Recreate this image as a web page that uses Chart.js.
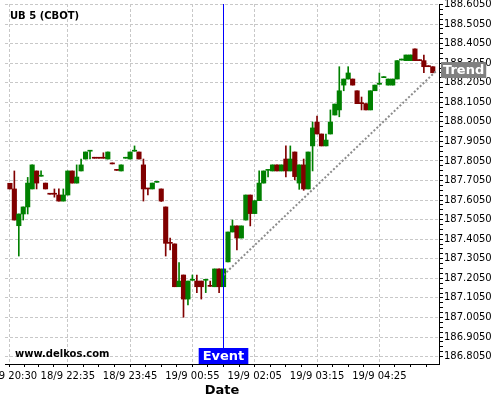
<!DOCTYPE html>
<html>
<head>
<meta charset="utf-8">
<title>UB 5 (CBOT)</title>
<script src="https://cdn.jsdelivr.net/npm/chart.js@4.4.1/dist/chart.umd.min.js"></script>
<style>
  body { margin: 0; background: #fff; }
  #wrap { width: 500px; height: 400px; }
</style>
</head>
<body>
<div id="wrap"><canvas id="chart" width="500" height="400"></canvas></div>
<script>
// 5 minute candles, gaps in the session are skipped
var times = [
  '18/9 20:30', '18/9 20:35', '18/9 20:40', '18/9 20:45', '18/9 20:50', '18/9 20:55', '18/9 21:00',
  '18/9 22:05', '18/9 22:10', '18/9 22:15', '18/9 22:20', '18/9 22:25', '18/9 22:30',
  '18/9 22:35', '18/9 22:40', '18/9 22:45', '18/9 22:50', '18/9 22:55', '18/9 23:00', '18/9 23:05',
  '18/9 23:10', '18/9 23:15', '18/9 23:20', '18/9 23:25', '18/9 23:30', '18/9 23:35', '18/9 23:40',
  '18/9 23:45', '18/9 23:50', '18/9 23:55', '19/9 00:00', '19/9 00:05', '19/9 00:10', '19/9 00:15',
  '19/9 00:20', '19/9 00:25', '19/9 00:30', '19/9 00:35', '19/9 00:40', '19/9 00:45', '19/9 00:50',
  '19/9 00:55', '19/9 01:00', '19/9 01:05', '19/9 01:10', '19/9 01:15', '19/9 01:20', '19/9 01:25',
  '19/9 01:30', '19/9 01:35', '19/9 01:40', '19/9 01:45', '19/9 01:50', '19/9 01:55', '19/9 02:00',
  '19/9 02:05', '19/9 02:10', '19/9 02:15', '19/9 02:20', '19/9 02:25', '19/9 02:30', '19/9 02:35',
  '19/9 02:40', '19/9 02:45', '19/9 02:50', '19/9 02:55', '19/9 03:00', '19/9 03:05', '19/9 03:10',
  '19/9 03:15', '19/9 03:20', '19/9 03:25', '19/9 03:30', '19/9 03:35', '19/9 03:40', '19/9 03:45',
  '19/9 03:50', '19/9 03:55', '19/9 04:00', '19/9 04:05', '19/9 04:10', '19/9 04:15', '19/9 04:20',
  '19/9 04:25', '19/9 04:30', '19/9 04:35', '19/9 04:40', '19/9 04:45', '19/9 04:50', '19/9 04:55',
  '19/9 05:00', '19/9 05:05', '19/9 05:10', '19/9 05:15', '19/9 05:20', '19/9 05:25'
];

var opens = [
  187.691, 187.662, 187.474, 187.534, 187.570, 187.662, 187.754, 187.727, 187.692, 187.635,
  187.635, 187.631, 187.600, 187.631, 187.754, 187.692, 187.754, 187.815, 187.855, 187.819,
  187.819, 187.819, 187.815, 187.790, 187.757, 187.754, 187.819, 187.815, 187.855, 187.851,
  187.785, 187.662, 187.662, 187.696, 187.662, 187.570, 187.384, 187.381, 187.162, 187.222,
  187.099, 187.195, 187.191, 187.191, 187.195, 187.164, 187.162, 187.253, 187.162, 187.289,
  187.442, 187.473, 187.411, 187.503, 187.631, 187.536, 187.602, 187.692, 187.757, 187.754,
  187.785, 187.754, 187.815, 187.754, 187.851, 187.692, 187.785, 187.662, 187.882, 188.004,
  187.943, 187.882, 187.943, 188.040, 188.066, 188.193, 188.224, 188.224, 188.164, 188.098,
  188.098, 188.066, 188.164, 188.197, 188.231, 188.193, 188.193, 188.224, 188.321, 188.318,
  188.318, 188.378, 188.318, 188.318, 188.287, 188.287
];
var highs = [
  187.691, 187.754, 187.534, 187.570, 187.721, 187.785, 187.754, 187.754, 187.692, 187.635,
  187.662, 187.662, 187.662, 187.754, 187.754, 187.785, 187.815, 187.851, 187.855, 187.819,
  187.819, 187.847, 187.851, 187.790, 187.757, 187.785, 187.819, 187.851, 187.882, 187.851,
  187.815, 187.662, 187.692, 187.696, 187.662, 187.570, 187.411, 187.381, 187.285, 187.222,
  187.191, 187.222, 187.222, 187.191, 187.195, 187.191, 187.253, 187.253, 187.253, 187.442,
  187.503, 187.473, 187.473, 187.631, 187.631, 187.602, 187.754, 187.754, 187.757, 187.785,
  187.785, 187.785, 187.882, 187.882, 187.851, 187.785, 187.815, 187.851, 188.004, 188.035,
  187.943, 187.943, 188.066, 188.096, 188.287, 188.224, 188.287, 188.224, 188.164, 188.132,
  188.098, 188.164, 188.193, 188.255, 188.231, 188.224, 188.224, 188.318, 188.321, 188.347,
  188.347, 188.378, 188.318, 188.347, 188.287, 188.287
];
var lows = [
  187.662, 187.503, 187.319, 187.503, 187.534, 187.662, 187.662, 187.727, 187.662, 187.635,
  187.620, 187.600, 187.600, 187.631, 187.692, 187.692, 187.754, 187.815, 187.815, 187.819,
  187.819, 187.819, 187.815, 187.790, 187.757, 187.754, 187.819, 187.815, 187.855, 187.815,
  187.600, 187.631, 187.662, 187.696, 187.598, 187.319, 187.350, 187.162, 187.162, 187.006,
  187.069, 187.195, 187.132, 187.099, 187.132, 187.164, 187.162, 187.132, 187.162, 187.289,
  187.442, 187.350, 187.411, 187.503, 187.473, 187.536, 187.602, 187.692, 187.723, 187.754,
  187.754, 187.754, 187.723, 187.754, 187.708, 187.660, 187.655, 187.662, 187.754, 187.943,
  187.882, 187.882, 187.943, 188.040, 188.031, 188.164, 188.224, 188.193, 188.098, 188.066,
  188.066, 188.066, 188.164, 188.197, 188.231, 188.193, 188.193, 188.224, 188.321, 188.318,
  188.318, 188.318, 188.318, 188.256, 188.287, 188.256
];
var closes = [
  187.662, 187.503, 187.534, 187.570, 187.692, 187.785, 187.692, 187.727, 187.662, 187.635,
  187.635, 187.600, 187.631, 187.754, 187.692, 187.723, 187.785, 187.851, 187.855, 187.819,
  187.819, 187.819, 187.851, 187.790, 187.757, 187.785, 187.819, 187.851, 187.855, 187.815,
  187.662, 187.662, 187.692, 187.696, 187.600, 187.384, 187.384, 187.162, 187.191, 187.099,
  187.191, 187.195, 187.162, 187.162, 187.195, 187.164, 187.253, 187.162, 187.253, 187.442,
  187.473, 187.411, 187.473, 187.631, 187.536, 187.602, 187.692, 187.754, 187.757, 187.785,
  187.754, 187.785, 187.754, 187.815, 187.725, 187.785, 187.662, 187.851, 187.974, 187.943,
  187.882, 187.912, 188.004, 188.096, 188.164, 188.224, 188.255, 188.193, 188.098, 188.098,
  188.066, 188.164, 188.193, 188.197, 188.231, 188.224, 188.224, 188.318, 188.321, 188.347,
  188.347, 188.318, 188.318, 188.287, 188.287, 188.256
];

var yTickLabels = [
  '186.8050', '186.9050', '187.0050', '187.1050', '187.2050', '187.3050', '187.4050',
  '187.5050', '187.6050', '187.7050', '187.8050', '187.9050', '188.0050', '188.1050',
  '188.2050', '188.3050', '188.4050', '188.5050', '188.6050'
];
var xTickLabels = ['18/9 20:30', '18/9 22:35', '18/9 23:45', '19/9 00:55', '19/9 02:05', '19/9 03:15', '19/9 04:25'];

var eventTime = '19/9 01:30';
var trendStart = 187.222;
var trendEnd = 188.270;

var UP = '#008000';
var DOWN = '#800000';
var GRID = '#c8c8c8';

Chart.defaults.font.family = '"DejaVu Sans", sans-serif';
Chart.defaults.color = '#000';

var eventIdx = times.indexOf(eventTime);

// candle colour: by open/close, dojis follow the previous candle
var candleColors = [];
var up = true;
for (var i = 0; i < times.length; i++) {
  if (closes[i] > opens[i]) up = true;
  else if (closes[i] < opens[i]) up = false;
  else if (i > 0 && closes[i] !== closes[i - 1]) up = closes[i] > closes[i - 1];
  candleColors.push(up ? UP : DOWN);
}

var bodyData = times.map(function (t, i) { return { x: i, y: [opens[i], closes[i]] }; });
var wickData = times.map(function (t, i) { return { x: i, y: [lows[i], highs[i]] }; });
var trendData = [
  { x: eventIdx, y: trendStart },
  { x: times.length, y: trendEnd }
];

function withMinors(majors, parts) {
  var out = [];
  for (var i = 0; i < majors.length; i++) {
    out.push({ value: majors[i].value, isMajor: true, text: majors[i].text });
    var next = i + 1 < majors.length ? majors[i + 1].value : null;
    if (next === null) break;
    for (var k = 1; k < parts; k++) {
      out.push({ value: majors[i].value + (next - majors[i].value) * k / parts, isMajor: false, text: '' });
    }
  }
  return out;
}

function gridColor(c) {
  return c.tick && c.tick.isMajor ? GRID : 'rgba(0,0,0,0)';
}

var overlay = {
  id: 'overlay',
  afterDraw: function (chart) {
    var ctx = chart.ctx;
    var a = chart.chartArea;
    var xs = chart.scales.x;
    var ys = chart.scales.y;
    ctx.save();

    ctx.fillStyle = '#000';
    ctx.textAlign = 'left';
    ctx.textBaseline = 'alphabetic';
    ctx.font = 'bold 10px "DejaVu Sans"';
    ctx.fillText('UB 5 (CBOT)', 10, 19);
    ctx.fillText('www.delkos.com', 15, 357);

    // event marker
    var ex = Math.floor(xs.getPixelForValue(eventIdx)) + 0.5;
    ctx.strokeStyle = '#0000ff';
    ctx.lineWidth = 1;
    ctx.beginPath();
    ctx.moveTo(ex, a.top);
    ctx.lineTo(ex, a.bottom);
    ctx.stroke();

    ctx.font = 'bold 13px "DejaVu Sans"';
    var w = ctx.measureText('Event').width + 8;
    ctx.fillStyle = '#0000ff';
    ctx.fillRect(ex - w / 2, a.bottom - 16, w, 16);
    ctx.fillStyle = '#fff';
    ctx.textAlign = 'center';
    ctx.textBaseline = 'middle';
    ctx.fillText('Event', ex, a.bottom - 7.5);

    // trend tag on the axis
    var ty = ys.getPixelForValue(trendEnd);
    var tw = ctx.measureText('Trend').width + 4;
    ctx.fillStyle = '#808080';
    ctx.fillRect(a.right + 2, ty - 8, tw, 16);
    ctx.fillStyle = '#fff';
    ctx.fillText('Trend', a.right + 2 + tw / 2, ty + 0.5);

    ctx.restore();
  }
};

new Chart(document.getElementById('chart'), {
  type: 'bar',
  data: {
    datasets: [{
      type: 'line',
      data: trendData,
      borderColor: '#8c8c8c',
      borderWidth: 2,
      borderDash: [2, 2],
      pointRadius: 0,
      fill: false
    }, {
      data: bodyData,
      backgroundColor: candleColors,
      barPercentage: 1,
      categoryPercentage: 1,
      minBarLength: 1,
      grouped: false
    }, {
      data: wickData,
      backgroundColor: candleColors,
      barThickness: 1,
      minBarLength: 1,
      grouped: false
    }]
  },
  options: {
    responsive: false,
    animation: false,
    layout: { padding: { left: 5, top: 4, right: 0, bottom: 0 } },
    plugins: { legend: { display: false }, tooltip: { enabled: false } },
    scales: {
      x: {
        type: 'linear',
        min: -1.1,
        max: 96.4,
        offset: false,
        afterBuildTicks: function (s) {
          var majors = xTickLabels.map(function (l) { return { value: times.indexOf(l), text: l }; });
          var ticks = withMinors(majors, 4);
          var last = majors[majors.length - 1].value;
          for (var v = last + 3.5; v < s.max; v += 3.5) ticks.push({ value: v, isMajor: false, text: '' });
          s.ticks = ticks;
        },
        afterFit: function (s) { s.height = 36; s.paddingLeft = 0; s.paddingRight = 0; },
        grid: { offset: false, color: gridColor, tickColor: '#000', tickLength: 3, lineWidth: 1 },
        border: { color: '#000', width: 1, dash: [3, 2] },
        ticks: {
          autoSkip: false,
          maxRotation: 0,
          padding: 3,
          font: { size: 10 },
          callback: function (v, i, ticks) { return ticks[i].text; }
        },
        title: {
          display: true,
          text: 'Date',
          font: { size: 13, weight: 'bold' },
          padding: { top: 0, bottom: 2 }
        }
      },
      y: {
        position: 'right',
        min: 186.767,
        max: 188.6076,
        afterBuildTicks: function (s) {
          var majors = yTickLabels.map(function (l) { return { value: parseFloat(l), text: l }; });
          s.ticks = withMinors(majors, 4);
        },
        afterFit: function (s) { s.width = 61; s.paddingTop = 0; s.paddingBottom = 0; },
        grid: { color: gridColor, tickColor: '#000', tickLength: 4, lineWidth: 1 },
        border: { color: '#000', width: 1, dash: [3, 2] },
        ticks: {
          autoSkip: false,
          padding: 1,
          font: { size: 10 },
          callback: function (v, i, ticks) { return ticks[i].text; }
        }
      }
    }
  },
  plugins: [overlay]
});
</script>
</body>
</html>
